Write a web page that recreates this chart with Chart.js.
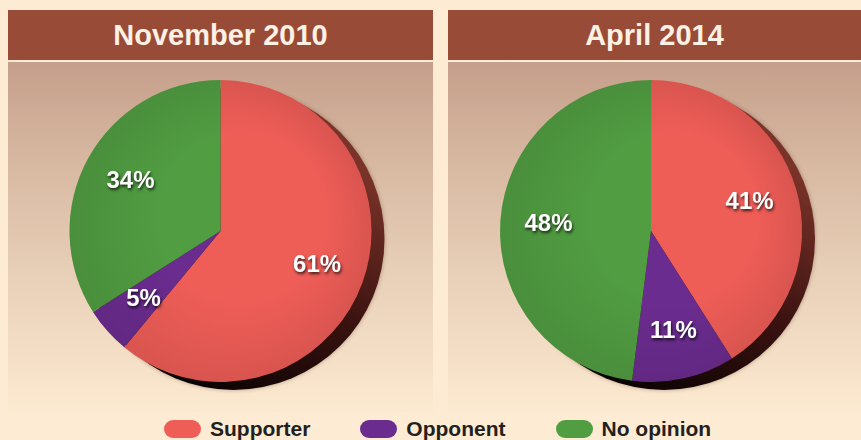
<!DOCTYPE html>
<html>
<head>
<meta charset="utf-8">
<script src="https://cdn.jsdelivr.net/npm/chart.js@4.4.0/dist/chart.umd.min.js"></script>
<style>
  body { margin: 0; width: 861px; height: 440px; background: #fdecd3; position: relative; overflow: hidden;
         font-family: "Liberation Sans", Arial, sans-serif; }
  .panel { position: absolute; top: 10px; }
  .head { height: 50px; background: #984b36; color: #fdf0e4; font-weight: bold; font-size: 29px;
          text-align: center; line-height: 51px; }
  .body { margin-top: 2px; height: 350px;
          background: linear-gradient(to bottom, #c59f8b 0%, #d8b9a2 30%, #e8cfb7 60%, #fcead0 100%); }
  .body canvas { display: block; }
  #legend { position: absolute; left: 164px; top: 417px; display: flex; align-items: center; }
  .item { display: flex; align-items: center; margin-right: 50px; font-weight: bold; font-size: 21px; color: #231f20; }
  .pill { width: 37px; height: 18px; border-radius: 9px; margin-right: 9px; }
</style>
</head>
<body>

<div class="panel" style="left:8px; width:425px;">
  <div class="head" id="title0"></div>
  <div class="body"><canvas id="pie0" width="425" height="338"></canvas></div>
</div>
<div class="panel" style="left:448px; width:413px;">
  <div class="head" id="title1"></div>
  <div class="body"><canvas id="pie1" width="413" height="338"></canvas></div>
</div>
<div id="legend"></div>

<script>
// data
var categories = ['Supporter', 'Opponent', 'No opinion'];
var periods = ['November 2010', 'April 2014'];
var nov2010 = [61, 5, 34];
var apr2014 = [41, 11, 48];
var sliceColors = ['#ef5d57', '#6b2c8f', '#519d42'];

// shadow behind the pie, drawn before the slices
var pieShadow = {
    id: 'pieShadow',
    beforeDatasetsDraw: function(chart) {
        var arc = chart.getDatasetMeta(0).data[0];
        if (!arc) return;
        var ctx = chart.ctx;
        var cx = arc.x + 13, cy = arc.y + 8, r = arc.outerRadius;
        var g = ctx.createLinearGradient(cx + r * 0.6, cy - r * 0.6, cx - r * 0.3, cy + r);
        g.addColorStop(0, '#7a3328');
        g.addColorStop(0.5, '#3a1210');
        g.addColorStop(1, '#080303');
        ctx.save();
        ctx.shadowColor = 'rgba(60,20,10,0.35)';
        ctx.shadowBlur = 4;
        ctx.beginPath();
        ctx.arc(cx, cy, r, 0, Math.PI * 2);
        ctx.fillStyle = g;
        ctx.fill();
        ctx.restore();
    },
    afterDatasetsDraw: function(chart) {
        // soft rim shading on the slices
        var arc = chart.getDatasetMeta(0).data[0];
        if (!arc) return;
        var ctx = chart.ctx;
        var r = arc.outerRadius;
        var g = ctx.createRadialGradient(arc.x + r * 0.15, arc.y - r * 0.1, r * 0.55, arc.x, arc.y, r);
        g.addColorStop(0, 'rgba(0,0,0,0)');
        g.addColorStop(1, 'rgba(0,0,0,0.09)');
        ctx.save();
        ctx.beginPath();
        ctx.arc(arc.x, arc.y, r, 0, Math.PI * 2);
        ctx.fillStyle = g;
        ctx.fill();
        ctx.restore();
    }
};

// percent labels inside slices
var sliceLabels = {
    id: 'sliceLabels',
    afterDraw: function(chart) {
        var ctx = chart.ctx;
        var values = chart.data.datasets[0].data;
        chart.getDatasetMeta(0).data.forEach(function(arc, i) {
            var mid = (arc.startAngle + arc.endAngle) / 2;
            var rr = arc.outerRadius * 0.68;
            var x = arc.x + Math.cos(mid) * rr;
            var y = arc.y + Math.sin(mid) * rr;
            ctx.save();
            ctx.font = 'bold 24px "Liberation Sans", Arial, sans-serif';
            ctx.textAlign = 'center';
            ctx.textBaseline = 'middle';
            ctx.shadowColor = 'rgba(0,0,0,0.75)';
            ctx.shadowBlur = 3;
            ctx.shadowOffsetX = 1;
            ctx.shadowOffsetY = 2;
            ctx.fillStyle = '#ffffff';
            ctx.fillText(values[i] + '%', x, y);
            ctx.restore();
        });
    }
};

function makePie(id, values, padRight) {
    var ctx = document.getElementById(id).getContext('2d');
    return new Chart(ctx, {
        type: 'pie',
        data: {
            labels: categories,
            datasets: [{
                data: values,
                backgroundColor: sliceColors,
                borderWidth: 0,
                radius: 151
            }]
        },
        options: {
            responsive: false,
            animation: false,
            layout: { padding: { right: padRight } },
            plugins: {
                legend: { display: false },
                tooltip: { enabled: false }
            }
        },
        plugins: [pieShadow, sliceLabels]
    });
}

document.getElementById('title0').textContent = periods[0];
document.getElementById('title1').textContent = periods[1];
makePie('pie0', nov2010, 0);
makePie('pie1', apr2014, 7);

// shared legend
var legend = document.getElementById('legend');
categories.forEach(function(name, i) {
    var item = document.createElement('div');
    item.className = 'item';
    var pill = document.createElement('span');
    pill.className = 'pill';
    pill.style.background = sliceColors[i];
    item.appendChild(pill);
    item.appendChild(document.createTextNode(name));
    legend.appendChild(item);
});
</script>
</body>
</html>
